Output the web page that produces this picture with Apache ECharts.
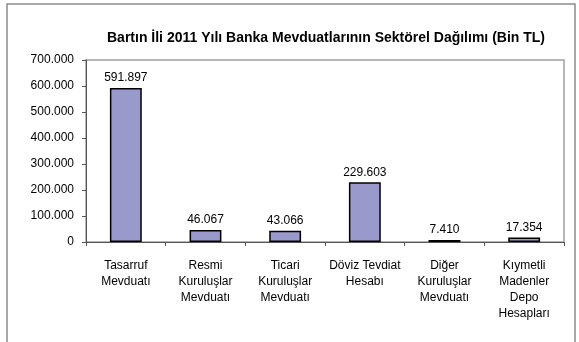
<!DOCTYPE html>
<html>
<head>
<meta charset="utf-8">
<script src="https://cdn.jsdelivr.net/npm/echarts@6/dist/echarts.min.js"></script>
<style>
  html, body { margin: 0; padding: 0; background: #fff; }
  #chart { width: 579px; height: 342px; }
</style>
</head>
<body>
<div id="chart"></div>
<script>
// Sector categories of bank deposits (Bartın province, 2011)
const categories = [
  'Tasarruf\nMevduatı',
  'Resmi\nKuruluşlar\nMevduatı',
  'Ticari\nKuruluşlar\nMevduatı',
  'Döviz Tevdiat\nHesabı',
  'Diğer\nKuruluşlar\nMevduatı',
  'Kıymetli\nMadenler\nDepo\nHesapları'
];
// Deposit amounts in thousand TL
const deposits = [591897, 46067, 43066, 229603, 7410, 17354];
// Value axis ticks
const yTicks = [0, 100000, 200000, 300000, 400000, 500000, 600000, 700000];

const FONT = '"Liberation Sans", Arial, sans-serif';

// Turkish style thousands separator: 591897 -> 591.897
function fmt(v) {
  return String(Math.round(v)).replace(/\B(?=(\d{3})+(?!\d))/g, '.');
}

const chart = echarts.init(document.getElementById('chart'), null, { renderer: 'canvas' });

chart.setOption({
  animation: false,
  backgroundColor: '#fff',
  title: {
    text: 'Bartın İli 2011 Yılı Banka Mevduatlarının Sektörel Dağılımı (Bin TL)',
    left: 321,
    textAlign: 'center',
    top: 26,
    textStyle: { fontFamily: FONT, fontSize: 14, fontWeight: 'bold', color: '#000' }
  },
  graphic: [{
    type: 'rect',
    shape: { x: 7, y: 4, width: 568, height: 350 },
    style: { fill: 'none', stroke: '#8c8c8c', lineWidth: 1.5 },
    silent: true
  }],
  grid: {
    left: 86, right: 15, top: 60, bottom: 100,
    show: true, borderColor: '#a0a0a0', borderWidth: 1.5, backgroundColor: 'transparent'
  },
  xAxis: {
    type: 'category',
    data: categories,
    axisLine: { lineStyle: { color: '#555', width: 1 } },
    axisTick: { show: true, alignWithLabel: false, length: 4, lineStyle: { color: '#555' } },
    axisLabel: {
      interval: 0, margin: 16, color: '#000',
      fontFamily: FONT, fontSize: 12, lineHeight: 16, align: 'center'
    }
  },
  yAxis: {
    type: 'value',
    min: yTicks[0],
    max: yTicks[yTicks.length - 1],
    interval: 100000,
    axisLine: { show: true, lineStyle: { color: '#555', width: 1 } },
    axisTick: { show: true, length: 4, lineStyle: { color: '#555' } },
    splitLine: { show: false },
    axisLabel: {
      margin: 12, color: '#000', fontFamily: FONT, fontSize: 12,
      formatter: v => fmt(v)
    }
  },
  series: [{
    type: 'bar',
    data: deposits,
    barWidth: '40%',
    itemStyle: { color: '#9999cc', borderColor: '#000', borderWidth: 1.5 },
    label: {
      show: true, position: 'top', distance: 4, color: '#000',
      fontFamily: FONT, fontSize: 12, formatter: p => fmt(p.value)
    }
  }]
});
</script>
</body>
</html>
